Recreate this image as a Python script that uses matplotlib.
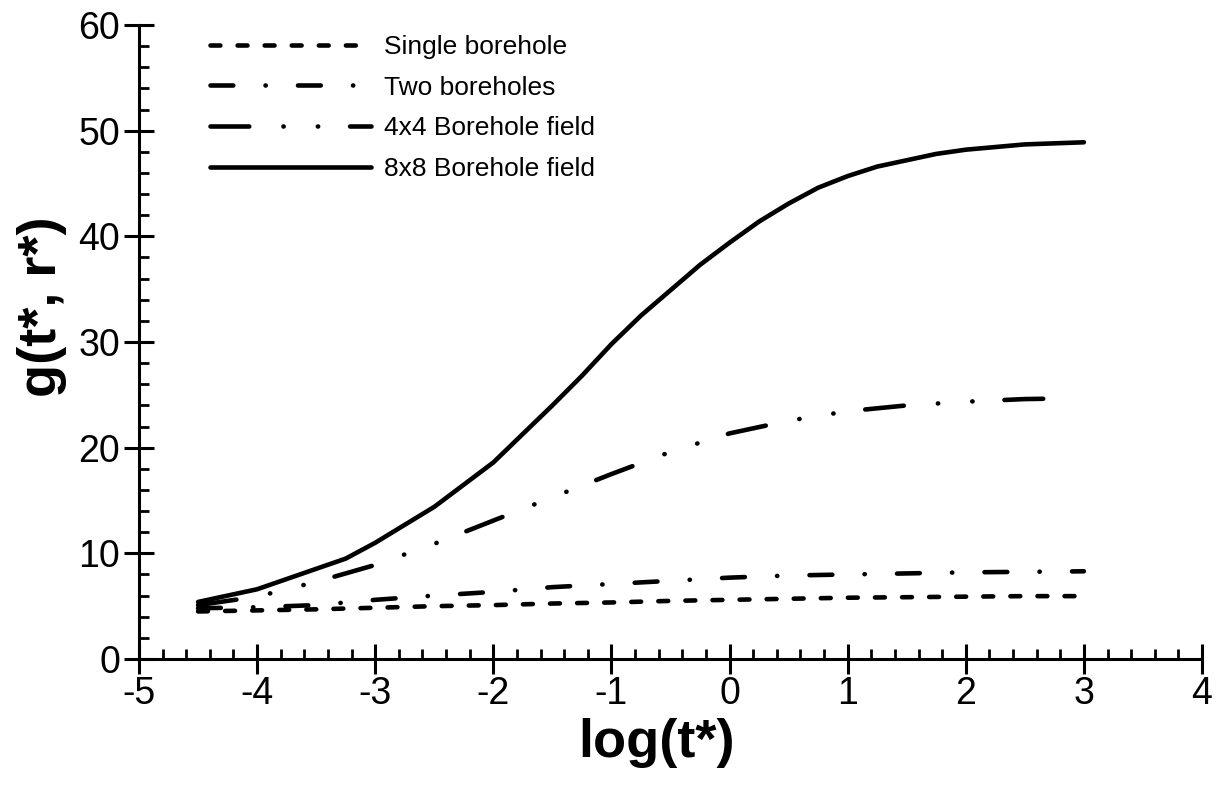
import matplotlib
matplotlib.use("Agg")
import matplotlib.pyplot as plt
from matplotlib.ticker import MultipleLocator

plt.rcParams['font.family'] = ['Liberation Sans', 'DejaVu Sans']
plt.rcParams['lines.scale_dashes'] = False

# ---- data ----
x_single = [-4.5, -4.0, -3.5, -3.0, -2.5, -2.0, -1.5, -1.0, -0.5, 0.0, 0.5, 1.0, 1.5, 2.0, 2.5, 3.0]
y_single = [4.5, 4.6, 4.7, 4.85, 5.0, 5.1, 5.25, 5.35, 5.5, 5.6, 5.7, 5.8, 5.85, 5.9, 5.95, 5.95]

x_two = [-4.5, -4.0, -3.5, -3.0, -2.5, -2.0, -1.5, -1.0, -0.5, 0.0, 0.5, 1.0, 1.5, 2.0, 2.5, 3.0]
y_two = [4.8, 4.9, 5.1, 5.6, 6.0, 6.35, 6.8, 7.1, 7.4, 7.7, 7.9, 8.0, 8.1, 8.2, 8.25, 8.3]

x_4x4 = [-4.5, -4.0, -3.5, -3.0, -2.5, -2.0, -1.5, -1.0, -0.5, 0.0, 0.5, 1.0, 1.5, 2.0, 2.5, 2.8]
y_4x4 = [5.1, 5.9, 7.3, 8.9, 10.9, 13.1, 15.3, 17.5, 19.6, 21.35, 22.55, 23.45, 24.0, 24.35, 24.6, 24.65]

x_8x8 = [-4.5, -4.0, -3.25, -3.0, -2.5, -2.0, -1.75, -1.5, -1.25, -1.0, -0.75, -0.5,
         -0.25, 0.0, 0.25, 0.5, 0.75, 1.0, 1.25, 1.5, 1.75, 2.0, 2.5, 3.0]
y_8x8 = [5.4, 6.6, 9.5, 11.0, 14.4, 18.6, 21.3, 24.0, 26.8, 29.8, 32.5, 34.9,
         37.3, 39.4, 41.4, 43.1, 44.6, 45.7, 46.6, 47.2, 47.8, 48.2, 48.7, 48.9]

labels = ["Single borehole", "Two boreholes", "4x4 Borehole field", "8x8 Borehole field"]
x_ticks = [-5, -4, -3, -2, -1, 0, 1, 2, 3, 4]
y_ticks = [0, 10, 20, 30, 40, 50, 60]

W, H = 1219, 791
fig = plt.figure(figsize=(W / 100, H / 100), dpi=100)
ax = fig.add_axes([139 / W, 1 - 659 / H, (1202 - 139) / W, (659 - 25) / H])

lw = 3.3
ax.plot(x_single, y_single, color='black', lw=lw, linestyle=(0, (7.1, 12.4)),
        dash_capstyle='round', label=labels[0])
ax.plot(x_two, y_two, color='black', lw=lw, linestyle=(0, (16.4, 23.2, 0.2, 23.2)),
        dash_capstyle='round', label=labels[1])
ax.plot(x_4x4, y_4x4, color='black', lw=lw,
        linestyle=(0, (27.9, 24.6, 0.2, 24.6, 0.2, 23.0)),
        dash_capstyle='round', label=labels[2])
ax.plot(x_8x8, y_8x8, color='black', lw=lw, linestyle='-',
        solid_capstyle='round', solid_joinstyle='round', label=labels[3])

ax.set_xlim(-5, 4)
ax.set_ylim(0, 60)
ax.set_xticks(x_ticks)
ax.set_yticks(y_ticks)
ax.set_xticklabels([str(v) for v in x_ticks])
ax.set_yticklabels([str(v) for v in y_ticks])
ax.xaxis.set_minor_locator(MultipleLocator(0.2))
ax.yaxis.set_minor_locator(MultipleLocator(2))

for s in ['top', 'right']:
    ax.spines[s].set_visible(False)
for s in ['left', 'bottom']:
    ax.spines[s].set_linewidth(2.2)

ax.tick_params(which='major', direction='inout', length=21, width=2.2,
               labelsize=27, colors='black')
ax.tick_params(axis='x', which='major', pad=2)
ax.tick_params(axis='y', which='major', pad=3)
ax.tick_params(which='minor', direction='in', length=7.5, width=2.0)

ax.set_xlabel('log(t*)', fontsize=39, fontweight='bold', va='top')
ax.set_ylabel('g(t*, r*)', fontsize=39, fontweight='bold')
ax.xaxis.set_label_coords(0.487, -0.093)
ax.yaxis.set_label_coords(-0.068, 0.555)

leg = ax.legend(loc='upper left', bbox_to_anchor=(210 / W, 1 - 35 / H),
                bbox_transform=fig.transFigure, frameon=False, fontsize=19,
                handlelength=6.1, handletextpad=0.5, labelspacing=0.63,
                borderpad=0, borderaxespad=0)

fig.savefig('out.png', dpi=100)
